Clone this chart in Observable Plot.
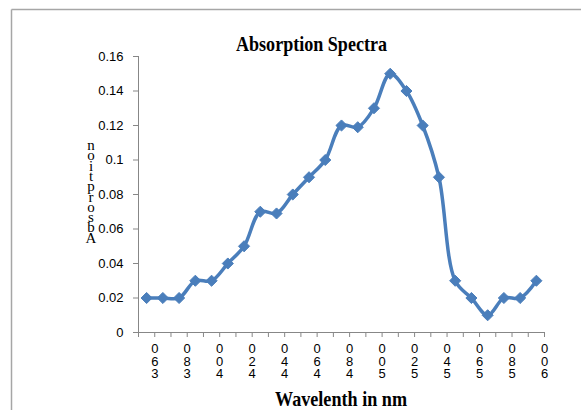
<!DOCTYPE html>
<html>
<head>
<meta charset="utf-8">
<script src="https://cdn.jsdelivr.net/npm/d3@7"></script>
<script src="https://cdn.jsdelivr.net/npm/@observablehq/plot@0.6"></script>
<style>
  html, body { margin: 0; padding: 0; background: #fff; }
  #chart { width: 581px; height: 410px; }
</style>
</head>
<body>
<div id="chart"></div>
<script>
const wavelengths = [360, 370, 380, 390, 400, 410, 420, 430, 440, 450, 460, 470, 480, 490, 500, 510, 520, 530, 540, 550, 560, 570, 580, 590, 600];
const absorbance = [0.02, 0.02, 0.02, 0.03, 0.03, 0.04, 0.05, 0.07, 0.069, 0.08, 0.09, 0.10, 0.12, 0.119, 0.13, 0.15, 0.14, 0.12, 0.09, 0.03, 0.02, 0.01, 0.02, 0.02, 0.03];
const xTickLabels = ["360", "380", "400", "420", "440", "460", "480", "500", "520", "540", "560", "580", "600"];
const yTicks = [0, 0.02, 0.04, 0.06, 0.08, 0.10, 0.12, 0.14, 0.16];
const yTickLabels = ["0", "0.02", "0.04", "0.06", "0.08", "0.1", "0.12", "0.14", "0.16"];
const titleText = "Absorption Spectra";
const xTitle = "Wavelenth in nm";
const yTitle = "Absorption";

const data = wavelengths.map((w, i) => ({w, a: absorbance[i]}));
const axisGray = "#878787";
const blue = "#4a7ebb";

const chart = Plot.plot({
  width: 581,
  height: 410,
  marginLeft: 138,
  marginRight: 37,
  marginTop: 56,
  marginBottom: 78,
  x: {type: "linear", domain: [355, 605]},
  y: {domain: [0, 0.16]},
  style: {fontFamily: "'Liberation Sans', Arial, sans-serif", background: "transparent", color: "#000"},
  marks: [
    Plot.axisY({ticks: yTicks, tickFormat: d => yTickLabels[yTicks.indexOf(d)], tickSize: 5, tickPadding: 10, stroke: axisGray, fontSize: 13, label: null}),
    Plot.axisX({ticks: d3.range(355, 606, 10), tickFormat: () => "", tickSize: 5, stroke: axisGray, label: null}),
    Plot.ruleX([355], {stroke: axisGray}),
    Plot.ruleY([0], {stroke: axisGray}),
    Plot.text(xTickLabels, {
      x: d => +d + 5, y: 0,
      text: d => d.split("").reverse().join("\n"),
      dy: 12, lineAnchor: "top", lineHeight: 0.96, fontSize: 13,
      fontFamily: "'Liberation Sans Narrow', 'Liberation Sans', sans-serif"
    }),
    Plot.line(data, {x: "w", y: "a", curve: "catmull-rom", stroke: blue, strokeWidth: 3.5}),
    Plot.dot(data, {x: "w", y: "a", symbol: "diamond2", r: 5, fill: blue, stroke: blue, strokeWidth: 1})
  ]
});
document.getElementById("chart").appendChild(chart);

const svg = d3.select(chart);
// outer border (top and left edges visible)
svg.append("line").attr("x1", 11.5).attr("x2", 581).attr("y1", 9.5).attr("y2", 9.5)
  .attr("stroke", "#a6a6a6").attr("stroke-width", 1.5);
svg.append("line").attr("x1", 11.5).attr("x2", 11.5).attr("y1", 9.5).attr("y2", 410)
  .attr("stroke", "#a6a6a6").attr("stroke-width", 1.5);

svg.append("text").text(titleText)
  .attr("x", 236).attr("y", 51).attr("text-anchor", "start")
  .attr("textLength", 151).attr("lengthAdjust", "spacingAndGlyphs")
  .attr("font-family", "'Liberation Serif', 'DejaVu Serif', serif")
  .attr("font-weight", "bold").attr("font-size", 21).attr("fill", "#000");

svg.append("text").text(xTitle)
  .attr("x", 275).attr("y", 406).attr("text-anchor", "start")
  .attr("textLength", 132).attr("lengthAdjust", "spacingAndGlyphs")
  .attr("font-family", "'Liberation Serif', 'DejaVu Serif', serif")
  .attr("font-weight", "bold").attr("font-size", 21).attr("fill", "#000");

const yt = svg.append("text")
  .attr("font-family", "'Liberation Serif', 'DejaVu Serif', serif")
  .attr("font-size", 15).attr("fill", "#000").attr("text-anchor", "middle");
yTitle.split("").reverse().forEach((c, i) => {
  yt.append("tspan").attr("x", 91).attr("y", 150 + i * 10.3).text(c);
});
</script>
</body>
</html>
